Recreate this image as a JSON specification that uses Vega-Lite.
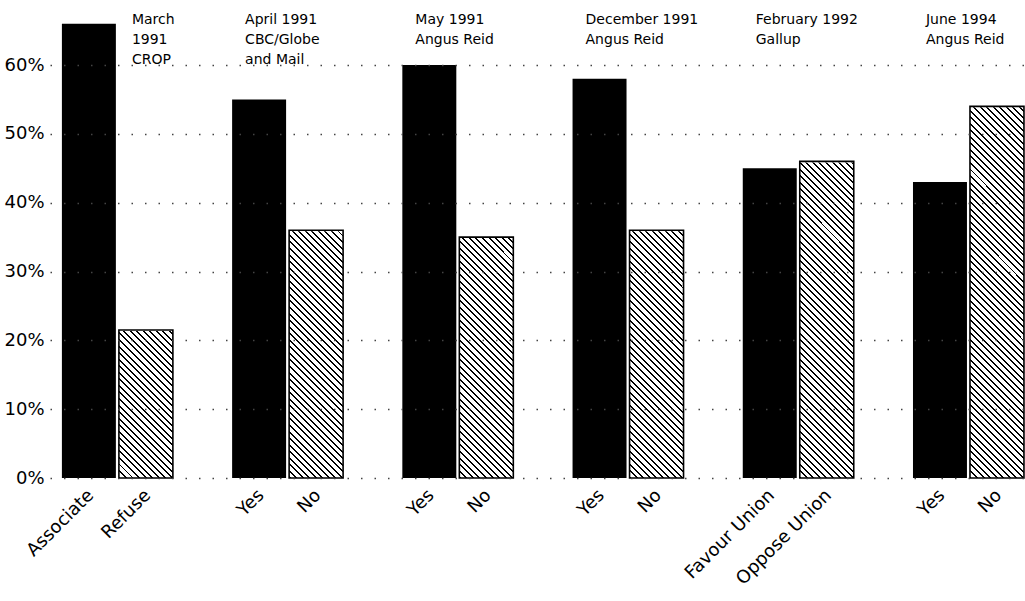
{
  "$schema": "https://vega.github.io/schema/vega-lite/v6.json",
  "width": 975,
  "height": 468,
  "autosize": {"type": "none"},
  "padding": {"left": 50, "top": 10, "right": 0, "bottom": 123},
  "background": "white",
  "config": {"view": {"stroke": null}, "font": "DejaVu Sans", "text": {"lineBreak": "\n"}},
  "data": {"values": [
    {"poll": "March 1991 CROP", "side": "a", "label": "Associate", "value": 66},
    {"poll": "March 1991 CROP", "side": "b", "label": "Refuse", "value": 21.5, "title": "March\n1991\nCROP"},
    {"poll": "April 1991 CBC/Globe and Mail", "side": "a", "label": "Yes", "value": 55, "title": "April 1991\nCBC/Globe\nand Mail"},
    {"poll": "April 1991 CBC/Globe and Mail", "side": "b", "label": "No", "value": 36},
    {"poll": "May 1991 Angus Reid", "side": "a", "label": "Yes", "value": 60, "title": "May 1991\nAngus Reid"},
    {"poll": "May 1991 Angus Reid", "side": "b", "label": "No", "value": 35},
    {"poll": "December 1991 Angus Reid", "side": "a", "label": "Yes", "value": 58, "title": "December 1991\nAngus Reid"},
    {"poll": "December 1991 Angus Reid", "side": "b", "label": "No", "value": 36},
    {"poll": "February 1992 Gallup", "side": "a", "label": "Favour Union", "value": 45, "title": "February 1992\nGallup"},
    {"poll": "February 1992 Gallup", "side": "b", "label": "Oppose Union", "value": 46},
    {"poll": "June 1994 Angus Reid", "side": "a", "label": "Yes", "value": 43, "title": "June 1994\nAngus Reid"},
    {"poll": "June 1994 Angus Reid", "side": "b", "label": "No", "value": 54}
  ]},
  "encoding": {
    "x": {"field": "poll", "type": "nominal", "sort": null, "axis": null,
          "scale": {"paddingInner": 0.348, "paddingOuter": 0.038, "align": 0.92}},
    "xOffset": {"field": "side", "type": "nominal", "sort": null,
                "scale": {"paddingInner": 0.053, "paddingOuter": 0}}
  },
  "layer": [
    {
      "transform": [{"filter": "datum.side == 'a'"}],
      "mark": {"type": "bar", "fill": "#000"},
      "encoding": {
        "y": {"field": "value", "type": "quantitative",
              "scale": {"domain": [0, 68], "nice": false, "zero": true},
              "axis": {"title": null, "values": [0, 10, 20, 30, 40, 50, 60],
                       "labelExpr": "datum.value + '%'", "domain": false, "ticks": false,
                       "labelFontSize": 18, "labelColor": "#000", "labelPadding": 6,
                       "labelFont": "DejaVu Sans",
                       "grid": true, "gridDash": [1.5, 12], "gridColor": "#444",
                       "gridWidth": 1.3, "zindex": 1}}
      }
    },
    {
      "transform": [{"filter": "datum.side == 'b'"}],
      "mark": {"type": "bar", "fill": {"gradient": "linear", "x1": 0, "y1": 1, "x2": 0.1598, "y2": -0.1199, "stops": [
        {"offset": 0, "color": "#000"}, {"offset": 0.0046, "color": "#000"}, {"offset": 0.0046, "color": "#fff"}, {"offset": 0.01515, "color": "#fff"},
        {"offset": 0.01515, "color": "#000"}, {"offset": 0.01975, "color": "#000"}, {"offset": 0.01975, "color": "#fff"}, {"offset": 0.0303, "color": "#fff"},
        {"offset": 0.0303, "color": "#000"}, {"offset": 0.0349, "color": "#000"}, {"offset": 0.0349, "color": "#fff"}, {"offset": 0.04545, "color": "#fff"},
        {"offset": 0.04545, "color": "#000"}, {"offset": 0.05005, "color": "#000"}, {"offset": 0.05005, "color": "#fff"}, {"offset": 0.06061, "color": "#fff"},
        {"offset": 0.06061, "color": "#000"}, {"offset": 0.06521, "color": "#000"}, {"offset": 0.06521, "color": "#fff"}, {"offset": 0.07576, "color": "#fff"},
        {"offset": 0.07576, "color": "#000"}, {"offset": 0.08036, "color": "#000"}, {"offset": 0.08036, "color": "#fff"}, {"offset": 0.09091, "color": "#fff"},
        {"offset": 0.09091, "color": "#000"}, {"offset": 0.09551, "color": "#000"}, {"offset": 0.09551, "color": "#fff"}, {"offset": 0.10606, "color": "#fff"},
        {"offset": 0.10606, "color": "#000"}, {"offset": 0.11066, "color": "#000"}, {"offset": 0.11066, "color": "#fff"}, {"offset": 0.12121, "color": "#fff"},
        {"offset": 0.12121, "color": "#000"}, {"offset": 0.12581, "color": "#000"}, {"offset": 0.12581, "color": "#fff"}, {"offset": 0.13636, "color": "#fff"},
        {"offset": 0.13636, "color": "#000"}, {"offset": 0.14096, "color": "#000"}, {"offset": 0.14096, "color": "#fff"}, {"offset": 0.15152, "color": "#fff"},
        {"offset": 0.15152, "color": "#000"}, {"offset": 0.15612, "color": "#000"}, {"offset": 0.15612, "color": "#fff"}, {"offset": 0.16667, "color": "#fff"},
        {"offset": 0.16667, "color": "#000"}, {"offset": 0.17127, "color": "#000"}, {"offset": 0.17127, "color": "#fff"}, {"offset": 0.18182, "color": "#fff"},
        {"offset": 0.18182, "color": "#000"}, {"offset": 0.18642, "color": "#000"}, {"offset": 0.18642, "color": "#fff"}, {"offset": 0.19697, "color": "#fff"},
        {"offset": 0.19697, "color": "#000"}, {"offset": 0.20157, "color": "#000"}, {"offset": 0.20157, "color": "#fff"}, {"offset": 0.21212, "color": "#fff"},
        {"offset": 0.21212, "color": "#000"}, {"offset": 0.21672, "color": "#000"}, {"offset": 0.21672, "color": "#fff"}, {"offset": 0.22727, "color": "#fff"},
        {"offset": 0.22727, "color": "#000"}, {"offset": 0.23187, "color": "#000"}, {"offset": 0.23187, "color": "#fff"}, {"offset": 0.24242, "color": "#fff"},
        {"offset": 0.24242, "color": "#000"}, {"offset": 0.24702, "color": "#000"}, {"offset": 0.24702, "color": "#fff"}, {"offset": 0.25758, "color": "#fff"},
        {"offset": 0.25758, "color": "#000"}, {"offset": 0.26218, "color": "#000"}, {"offset": 0.26218, "color": "#fff"}, {"offset": 0.27273, "color": "#fff"},
        {"offset": 0.27273, "color": "#000"}, {"offset": 0.27733, "color": "#000"}, {"offset": 0.27733, "color": "#fff"}, {"offset": 0.28788, "color": "#fff"},
        {"offset": 0.28788, "color": "#000"}, {"offset": 0.29248, "color": "#000"}, {"offset": 0.29248, "color": "#fff"}, {"offset": 0.30303, "color": "#fff"},
        {"offset": 0.30303, "color": "#000"}, {"offset": 0.30763, "color": "#000"}, {"offset": 0.30763, "color": "#fff"}, {"offset": 0.31818, "color": "#fff"},
        {"offset": 0.31818, "color": "#000"}, {"offset": 0.32278, "color": "#000"}, {"offset": 0.32278, "color": "#fff"}, {"offset": 0.33333, "color": "#fff"},
        {"offset": 0.33333, "color": "#000"}, {"offset": 0.33793, "color": "#000"}, {"offset": 0.33793, "color": "#fff"}, {"offset": 0.34848, "color": "#fff"},
        {"offset": 0.34848, "color": "#000"}, {"offset": 0.35308, "color": "#000"}, {"offset": 0.35308, "color": "#fff"}, {"offset": 0.36364, "color": "#fff"},
        {"offset": 0.36364, "color": "#000"}, {"offset": 0.36824, "color": "#000"}, {"offset": 0.36824, "color": "#fff"}, {"offset": 0.37879, "color": "#fff"},
        {"offset": 0.37879, "color": "#000"}, {"offset": 0.38339, "color": "#000"}, {"offset": 0.38339, "color": "#fff"}, {"offset": 0.39394, "color": "#fff"},
        {"offset": 0.39394, "color": "#000"}, {"offset": 0.39854, "color": "#000"}, {"offset": 0.39854, "color": "#fff"}, {"offset": 0.40909, "color": "#fff"},
        {"offset": 0.40909, "color": "#000"}, {"offset": 0.41369, "color": "#000"}, {"offset": 0.41369, "color": "#fff"}, {"offset": 0.42424, "color": "#fff"},
        {"offset": 0.42424, "color": "#000"}, {"offset": 0.42884, "color": "#000"}, {"offset": 0.42884, "color": "#fff"}, {"offset": 0.43939, "color": "#fff"},
        {"offset": 0.43939, "color": "#000"}, {"offset": 0.44399, "color": "#000"}, {"offset": 0.44399, "color": "#fff"}, {"offset": 0.45455, "color": "#fff"},
        {"offset": 0.45455, "color": "#000"}, {"offset": 0.45915, "color": "#000"}, {"offset": 0.45915, "color": "#fff"}, {"offset": 0.4697, "color": "#fff"},
        {"offset": 0.4697, "color": "#000"}, {"offset": 0.4743, "color": "#000"}, {"offset": 0.4743, "color": "#fff"}, {"offset": 0.48485, "color": "#fff"},
        {"offset": 0.48485, "color": "#000"}, {"offset": 0.48945, "color": "#000"}, {"offset": 0.48945, "color": "#fff"}, {"offset": 0.5, "color": "#fff"},
        {"offset": 0.5, "color": "#000"}, {"offset": 0.5046, "color": "#000"}, {"offset": 0.5046, "color": "#fff"}, {"offset": 0.51515, "color": "#fff"},
        {"offset": 0.51515, "color": "#000"}, {"offset": 0.51975, "color": "#000"}, {"offset": 0.51975, "color": "#fff"}, {"offset": 0.5303, "color": "#fff"},
        {"offset": 0.5303, "color": "#000"}, {"offset": 0.5349, "color": "#000"}, {"offset": 0.5349, "color": "#fff"}, {"offset": 0.54545, "color": "#fff"},
        {"offset": 0.54545, "color": "#000"}, {"offset": 0.55005, "color": "#000"}, {"offset": 0.55005, "color": "#fff"}, {"offset": 0.56061, "color": "#fff"},
        {"offset": 0.56061, "color": "#000"}, {"offset": 0.56521, "color": "#000"}, {"offset": 0.56521, "color": "#fff"}, {"offset": 0.57576, "color": "#fff"},
        {"offset": 0.57576, "color": "#000"}, {"offset": 0.58036, "color": "#000"}, {"offset": 0.58036, "color": "#fff"}, {"offset": 0.59091, "color": "#fff"},
        {"offset": 0.59091, "color": "#000"}, {"offset": 0.59551, "color": "#000"}, {"offset": 0.59551, "color": "#fff"}, {"offset": 0.60606, "color": "#fff"},
        {"offset": 0.60606, "color": "#000"}, {"offset": 0.61066, "color": "#000"}, {"offset": 0.61066, "color": "#fff"}, {"offset": 0.62121, "color": "#fff"},
        {"offset": 0.62121, "color": "#000"}, {"offset": 0.62581, "color": "#000"}, {"offset": 0.62581, "color": "#fff"}, {"offset": 0.63636, "color": "#fff"},
        {"offset": 0.63636, "color": "#000"}, {"offset": 0.64096, "color": "#000"}, {"offset": 0.64096, "color": "#fff"}, {"offset": 0.65152, "color": "#fff"},
        {"offset": 0.65152, "color": "#000"}, {"offset": 0.65612, "color": "#000"}, {"offset": 0.65612, "color": "#fff"}, {"offset": 0.66667, "color": "#fff"},
        {"offset": 0.66667, "color": "#000"}, {"offset": 0.67127, "color": "#000"}, {"offset": 0.67127, "color": "#fff"}, {"offset": 0.68182, "color": "#fff"},
        {"offset": 0.68182, "color": "#000"}, {"offset": 0.68642, "color": "#000"}, {"offset": 0.68642, "color": "#fff"}, {"offset": 0.69697, "color": "#fff"},
        {"offset": 0.69697, "color": "#000"}, {"offset": 0.70157, "color": "#000"}, {"offset": 0.70157, "color": "#fff"}, {"offset": 0.71212, "color": "#fff"},
        {"offset": 0.71212, "color": "#000"}, {"offset": 0.71672, "color": "#000"}, {"offset": 0.71672, "color": "#fff"}, {"offset": 0.72727, "color": "#fff"},
        {"offset": 0.72727, "color": "#000"}, {"offset": 0.73187, "color": "#000"}, {"offset": 0.73187, "color": "#fff"}, {"offset": 0.74242, "color": "#fff"},
        {"offset": 0.74242, "color": "#000"}, {"offset": 0.74702, "color": "#000"}, {"offset": 0.74702, "color": "#fff"}, {"offset": 0.75758, "color": "#fff"},
        {"offset": 0.75758, "color": "#000"}, {"offset": 0.76218, "color": "#000"}, {"offset": 0.76218, "color": "#fff"}, {"offset": 0.77273, "color": "#fff"},
        {"offset": 0.77273, "color": "#000"}, {"offset": 0.77733, "color": "#000"}, {"offset": 0.77733, "color": "#fff"}, {"offset": 0.78788, "color": "#fff"},
        {"offset": 0.78788, "color": "#000"}, {"offset": 0.79248, "color": "#000"}, {"offset": 0.79248, "color": "#fff"}, {"offset": 0.80303, "color": "#fff"},
        {"offset": 0.80303, "color": "#000"}, {"offset": 0.80763, "color": "#000"}, {"offset": 0.80763, "color": "#fff"}, {"offset": 0.81818, "color": "#fff"},
        {"offset": 0.81818, "color": "#000"}, {"offset": 0.82278, "color": "#000"}, {"offset": 0.82278, "color": "#fff"}, {"offset": 0.83333, "color": "#fff"},
        {"offset": 0.83333, "color": "#000"}, {"offset": 0.83793, "color": "#000"}, {"offset": 0.83793, "color": "#fff"}, {"offset": 0.84848, "color": "#fff"},
        {"offset": 0.84848, "color": "#000"}, {"offset": 0.85308, "color": "#000"}, {"offset": 0.85308, "color": "#fff"}, {"offset": 0.86364, "color": "#fff"},
        {"offset": 0.86364, "color": "#000"}, {"offset": 0.86824, "color": "#000"}, {"offset": 0.86824, "color": "#fff"}, {"offset": 0.87879, "color": "#fff"},
        {"offset": 0.87879, "color": "#000"}, {"offset": 0.88339, "color": "#000"}, {"offset": 0.88339, "color": "#fff"}, {"offset": 0.89394, "color": "#fff"},
        {"offset": 0.89394, "color": "#000"}, {"offset": 0.89854, "color": "#000"}, {"offset": 0.89854, "color": "#fff"}, {"offset": 0.90909, "color": "#fff"},
        {"offset": 0.90909, "color": "#000"}, {"offset": 0.91369, "color": "#000"}, {"offset": 0.91369, "color": "#fff"}, {"offset": 0.92424, "color": "#fff"},
        {"offset": 0.92424, "color": "#000"}, {"offset": 0.92884, "color": "#000"}, {"offset": 0.92884, "color": "#fff"}, {"offset": 0.93939, "color": "#fff"},
        {"offset": 0.93939, "color": "#000"}, {"offset": 0.94399, "color": "#000"}, {"offset": 0.94399, "color": "#fff"}, {"offset": 0.95455, "color": "#fff"},
        {"offset": 0.95455, "color": "#000"}, {"offset": 0.95915, "color": "#000"}, {"offset": 0.95915, "color": "#fff"}, {"offset": 0.9697, "color": "#fff"},
        {"offset": 0.9697, "color": "#000"}, {"offset": 0.9743, "color": "#000"}, {"offset": 0.9743, "color": "#fff"}, {"offset": 0.98485, "color": "#fff"},
        {"offset": 0.98485, "color": "#000"}, {"offset": 0.98945, "color": "#000"}, {"offset": 0.98945, "color": "#fff"}, {"offset": 1, "color": "#fff"}
      ]}},
      "encoding": {"y": {"datum": 55, "type": "quantitative", "title": null}}
    },
    {
      "transform": [{"filter": "datum.side == 'b'"}],
      "mark": {"type": "bar", "fill": "#fff", "stroke": "#fff", "strokeWidth": 2},
      "encoding": {
        "y": {"field": "value", "type": "quantitative", "title": null},
        "y2": {"datum": 55.5}
      }
    },
    {
      "transform": [{"filter": "datum.side == 'b'"}],
      "mark": {"type": "bar", "fill": "transparent", "stroke": "#000", "strokeWidth": 1.6},
      "encoding": {"y": {"field": "value", "type": "quantitative", "title": null}}
    },
    {
      "mark": {"type": "text", "angle": 315, "align": "right", "baseline": "middle", "dx": -9, "dy": 12,
               "fontSize": 18, "font": "DejaVu Sans", "color": "#000"},
      "encoding": {
        "y": {"datum": 0, "type": "quantitative", "title": null},
        "text": {"field": "label"}
      }
    },
    {
      "transform": [{"filter": "isValid(datum.title)"}],
      "mark": {"type": "text", "align": "left", "baseline": "top", "dx": -14,
               "fontSize": 14, "lineHeight": 20, "font": "DejaVu Sans", "color": "#000"},
      "encoding": {
        "y": {"datum": 67.6, "type": "quantitative", "title": null},
        "text": {"field": "title"}
      }
    }
  ]
}
